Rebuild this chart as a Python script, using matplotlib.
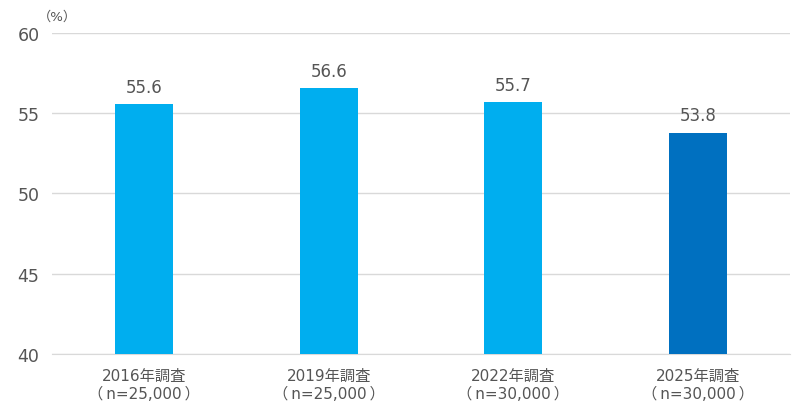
import matplotlib
matplotlib.use("Agg")
import matplotlib.pyplot as plt

plt.rcParams['font.family'] = ['DejaVu Sans', 'Noto Sans CJK JP']

categories = ["2016年調査\n（\u2009n=25,000\u2009）", "2019年調査\n（\u2009n=25,000\u2009）",
              "2022年調査\n（\u2009n=30,000\u2009）", "2025年調査\n（\u2009n=30,000\u2009）"]
values = [55.6, 56.6, 55.7, 53.8]
colors = ["#00AEEF", "#00AEEF", "#00AEEF", "#0070C0"]
yticks = [40, 45, 50, 55, 60]

text_color = "#555555"

fig = plt.figure(figsize=(8, 4.14), dpi=100)
ax = fig.add_axes([0.065, 0.1425, 0.9225, 0.7754])

x = range(len(values))
ax.bar(x, values, width=0.315, color=colors, zorder=3)

for i, v in enumerate(values):
    ax.text(i, v + 0.5, f"{v:.1f}", ha="center", va="bottom",
            fontsize=12, color=text_color)

ax.set_xlim(-0.5, len(values) - 0.5)
ax.set_ylim(40, 60)
ax.set_yticks(yticks)
ax.set_yticklabels([str(t) for t in yticks], fontsize=12.5, color=text_color)
ax.set_xticks(list(x))
ax.set_xticklabels(categories, fontsize=11, color=text_color, linespacing=1.25)

ax.grid(axis="y", color="#d9d9d9", linewidth=1, zorder=0)
for s in ["top", "right", "left"]:
    ax.spines[s].set_visible(False)
ax.spines["bottom"].set_color("#d9d9d9")
ax.tick_params(axis="both", length=0)
ax.tick_params(axis="y", pad=9)
ax.tick_params(axis="x", pad=10)

fig.text(0.047, 0.958, "（%）", fontsize=9.5, color=text_color, ha="left", va="center")

fig.savefig("out.png", dpi=100)
